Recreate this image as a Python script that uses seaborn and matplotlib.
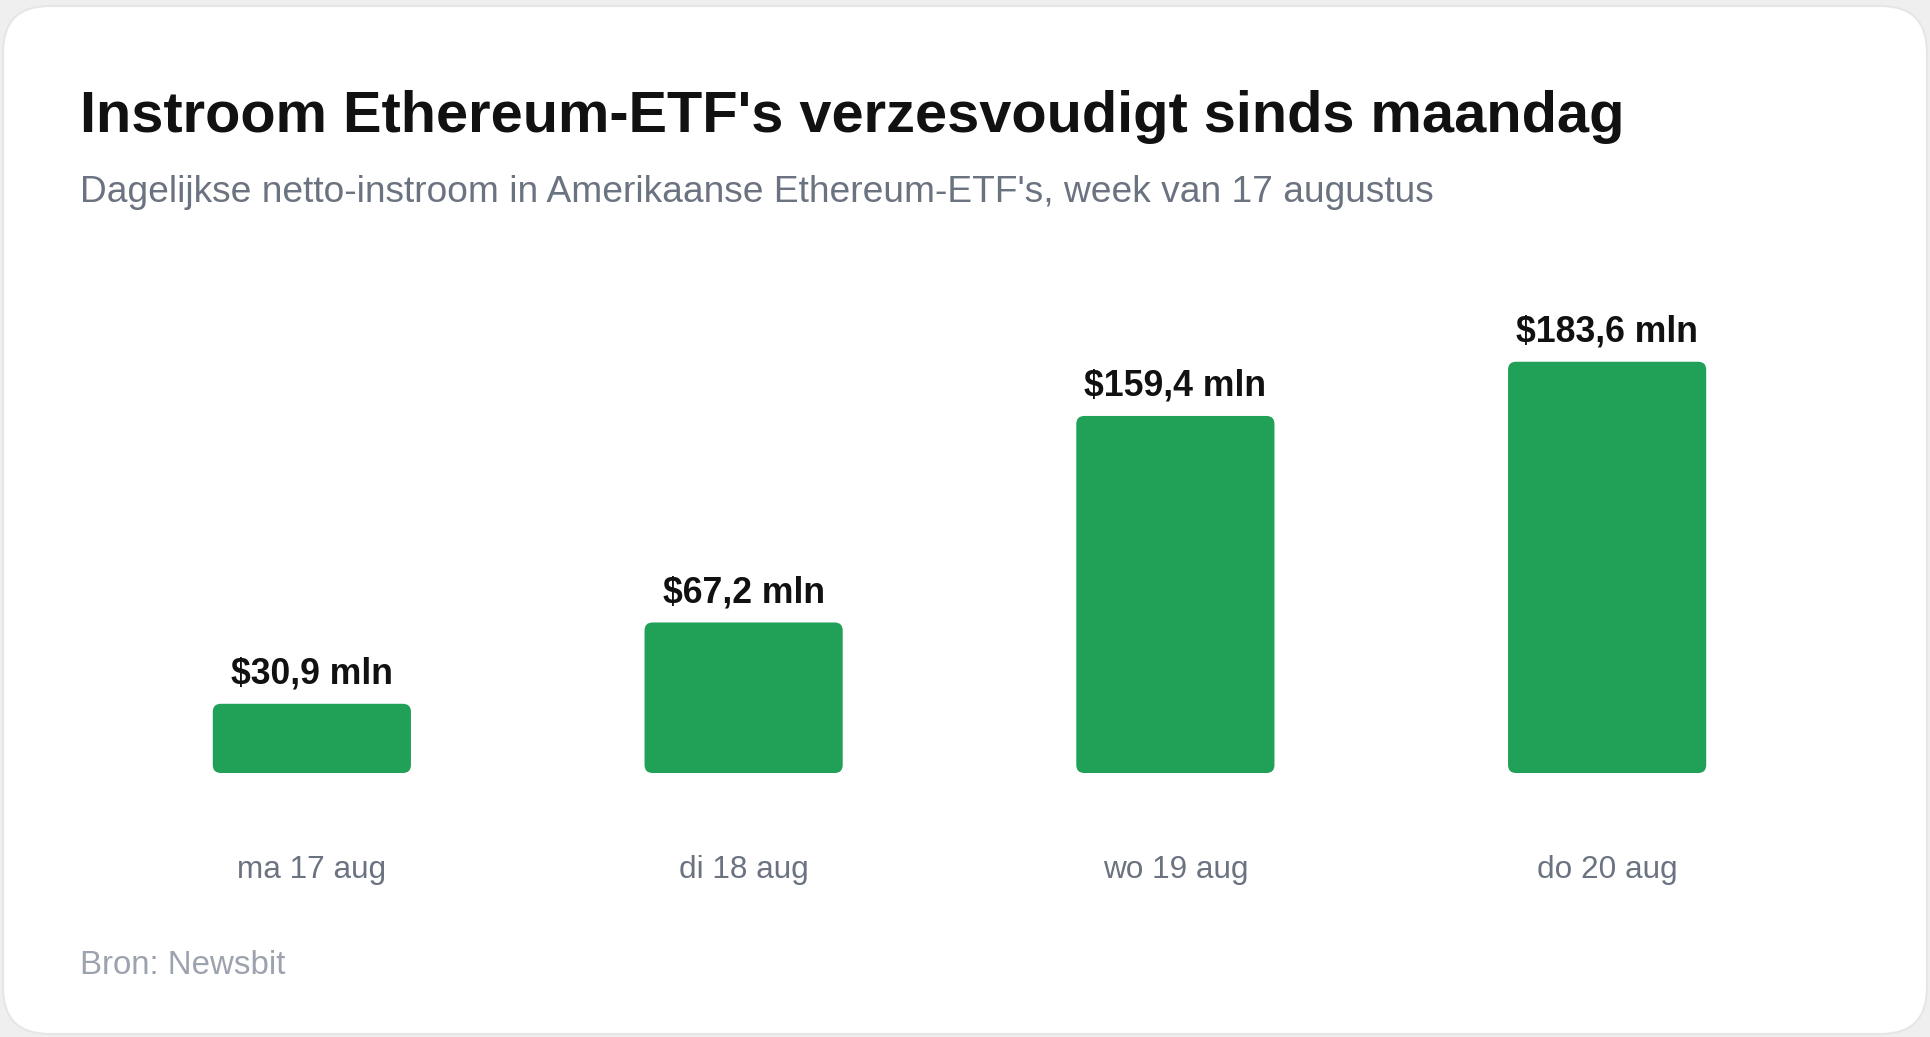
import matplotlib
matplotlib.use("Agg")
import matplotlib.pyplot as plt
from matplotlib.patches import FancyBboxPatch
import pandas as pd
import seaborn as sns

# Data #
days = ["ma 17 aug", "di 18 aug", "wo 19 aug", "do 20 aug"]
inflow = [30.9, 67.2, 159.4, 183.6]
value_labels = ["$30,9 mln", "$67,2 mln", "$159,4 mln", "$183,6 mln"]

title = "Instroom Ethereum-ETF's verzesvoudigt sinds maandag"
subtitle = "Dagelijkse netto-instroom in Amerikaanse Ethereum-ETF's, week van 17 augustus"
source = "Bron: Newsbit"

# Colors #
bar_color = "#21a057"
title_color = "#111111"
sub_color = "#6b7280"
src_color = "#9ca3af"

sns.set_theme(style="white")
plt.rcParams['font.family'] = ['Liberation Sans', 'DejaVu Sans']

df = pd.DataFrame({"day": days, "inflow": inflow})

W, H = 1930, 1037
fig = plt.figure(figsize=(W / 100, H / 100), dpi=100)
fig.patch.set_facecolor("#efefef")

# card #
card = FancyBboxPatch((3 / W, 3 / H), (1924 / W), (1028 / H),
                      boxstyle="round,pad=0,rounding_size=0.024",
                      mutation_aspect=W / H,
                      transform=fig.transFigure, facecolor="white",
                      edgecolor="#e6e6e6", linewidth=1.5, zorder=-10)
fig.patches.append(card)

ax = fig.add_axes([96 / W, 1 - 773 / H, 1727 / W, 0.4320])
ax.set_facecolor("none")
ax.set_zorder(5)

sns.barplot(data=df, x="day", y="inflow", color=bar_color, width=0.459,
            saturation=1, ax=ax)

ax.bar_label(ax.containers[0], labels=value_labels, padding=8.8,
             fontsize=25.7, fontweight="bold", color=title_color)

# rounded bars #
x_px = 1727 / 4
y_px = (H * 0.4320) / 200
for p in list(ax.patches):
    x0, y0 = p.get_x(), p.get_y()
    w, h = p.get_width(), p.get_height()
    rb = FancyBboxPatch((x0, y0), w, h,
                        boxstyle="round,pad=0,rounding_size=%f" % (8 / x_px),
                        mutation_aspect=x_px / y_px,
                        facecolor=bar_color, edgecolor="none")
    p.set_visible(False)
    ax.add_patch(rb)

ax.set_xlim(-0.5, 3.5)
ax.set_ylim(0, 200)
ax.set_xlabel("")
ax.set_ylabel("")
ax.set_yticks([])
ax.tick_params(axis="x", length=0, pad=59, labelsize=22.7, labelcolor=sub_color)
sns.despine(ax=ax, left=True, bottom=True)

fig.text(80 / W, 1 - 132 / H, title, fontsize=41.6, fontweight="bold",
         color=title_color, ha="left", va="baseline")
fig.text(80 / W, 1 - 202 / H, subtitle, fontsize=26.75, color=sub_color,
         ha="left", va="baseline")
fig.text(80 / W, 1 - 974 / H, source, fontsize=23.8, color=src_color,
         ha="left", va="baseline")

fig.savefig("out.png", dpi=100, facecolor=fig.get_facecolor())
